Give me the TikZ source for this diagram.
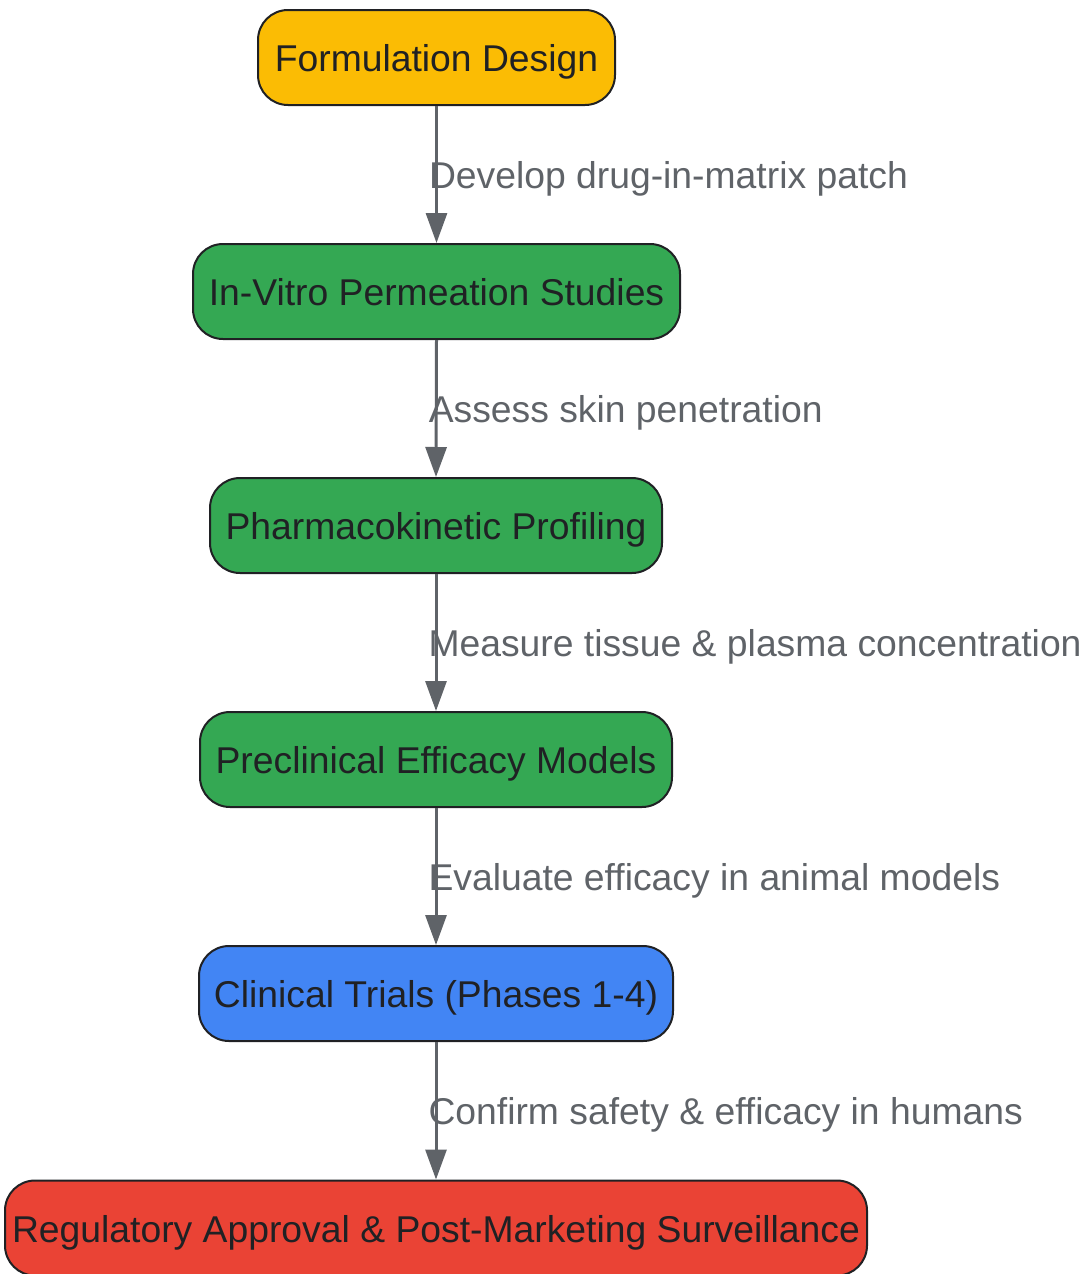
\documentclass[tikz,border=0pt]{standalone}
\usepackage{fontspec}
\setmainfont{Liberation Sans}
\usetikzlibrary{arrows.meta}
\definecolor{cyellow}{HTML}{FBBC04}
\definecolor{cgreen}{HTML}{34A853}
\definecolor{cblue}{HTML}{4285F4}
\definecolor{cred}{HTML}{EA4335}
\definecolor{cstroke}{HTML}{202124}
\definecolor{cedge}{HTML}{5F6368}
\tikzset{
  stepbox/.style={draw=cstroke, line width=2pt, rounded corners=30pt, minimum height=95pt,
    inner sep=0pt, text height=28.4pt, text depth=0pt, text=cstroke, font=\fontsize{37.3}{44}\selectfont},
  edge/.style={draw=cedge, line width=3pt, -{Triangle[length=30pt,width=21pt]}},
  elabel/.style={anchor=west, inner sep=0pt, xshift=-9pt, text height=28pt, text depth=0pt,
    text=cedge, font=\fontsize{37.3}{44}\selectfont}
}
\begin{document}
\begin{tikzpicture}[x=1pt,y=-1pt]
\useasboundingbox (0,0) rectangle (1082,1274);
\node[stepbox, fill=cyellow, minimum width=357pt] (n1) at (436.5,57.5) {Formulation Design};
\node[stepbox, fill=cgreen, minimum width=487pt] (n2) at (436.5,291.5) {In-Vitro Permeation Studies};
\node[stepbox, fill=cgreen, minimum width=452pt] (n3) at (436,525.5) {Pharmacokinetic Profiling};
\node[stepbox, fill=cgreen, minimum width=472pt] (n4) at (436,759.5) {Preclinical Efficacy Models};
\node[stepbox, fill=cblue, minimum width=474pt] (n5) at (436,993.5) {Clinical Trials (Phases 1-4)};
\node[stepbox, fill=cred, minimum width=862pt] (n6) at (436,1228) {Regulatory Approval \& Post-Marketing Surveillance};
\draw[edge] (n1.south) -- node[elabel] {Develop drug-in-matrix patch} (n2.north);
\draw[edge] (n2.south) -- node[elabel] {Assess skin penetration} (n3.north);
\draw[edge] (n3.south) -- node[elabel] {Measure tissue \& plasma concentration} (n4.north);
\draw[edge] (n4.south) -- node[elabel] {Evaluate efficacy in animal models} (n5.north);
\draw[edge] (n5.south) -- node[elabel] {Confirm safety \& efficacy in humans} (n6.north);
\end{tikzpicture}
\end{document}
